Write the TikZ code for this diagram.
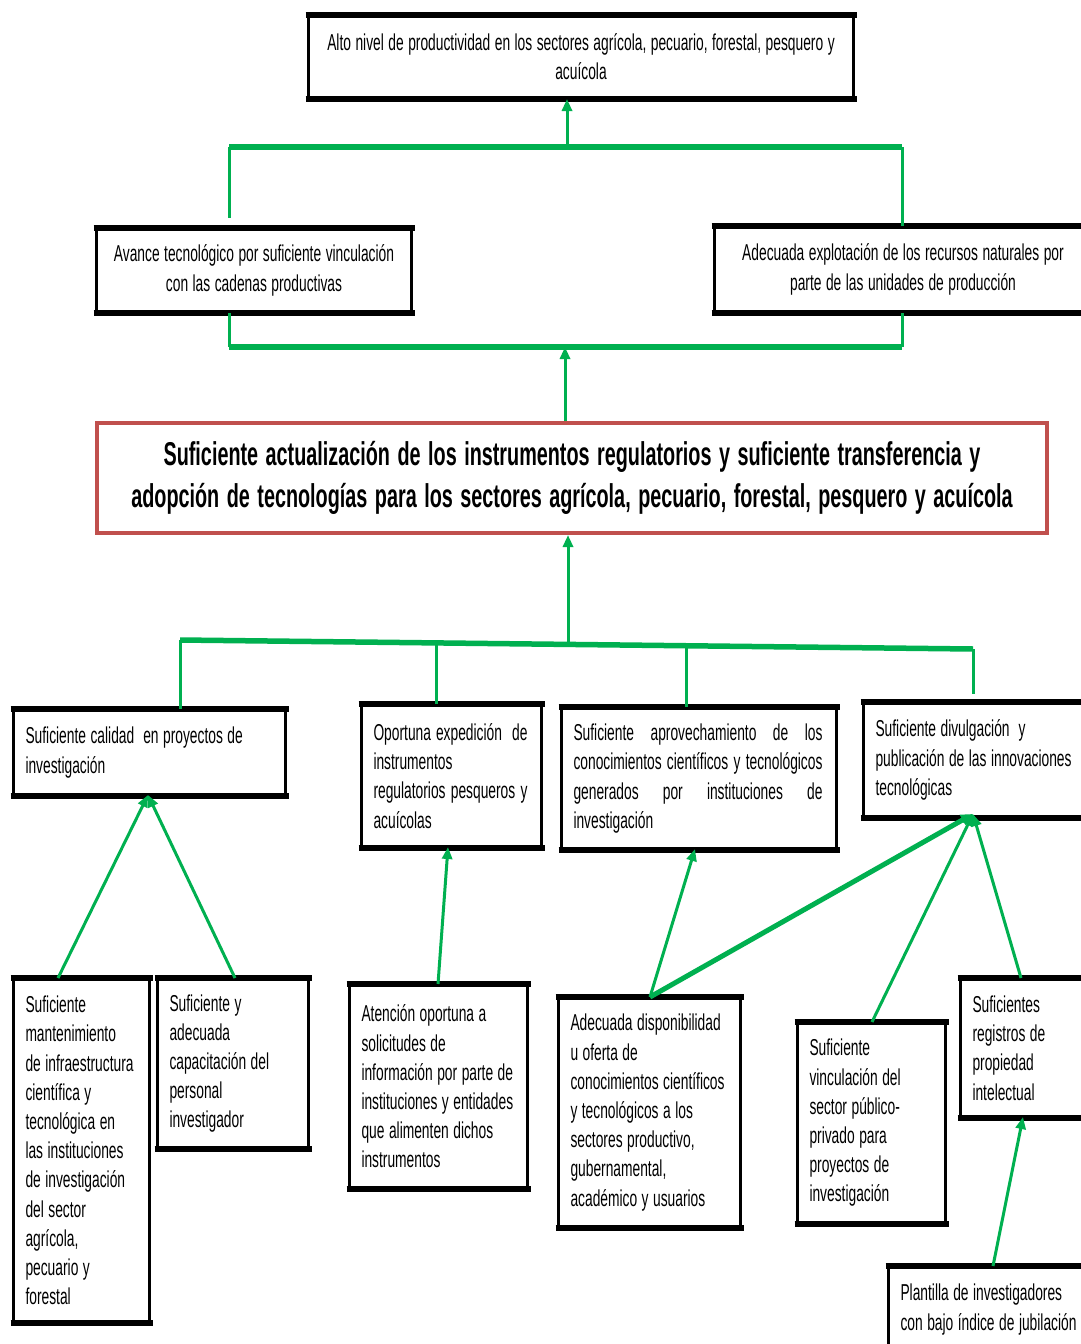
\documentclass[tikz,border=0pt]{standalone}
\usepackage{fontspec}
\setmainfont{Liberation Sans}[FakeStretch=0.6]
\usetikzlibrary{arrows.meta}
\definecolor{gr}{HTML}{00B050}
\definecolor{rd}{HTML}{C0504D}
\newcommand{\boxfont}{\fontsize{23}{29.2}\selectfont}
\newcommand{\bigfont}{\fontsize{33}{42}\selectfont\bfseries}
\newcommand{\tsp}{\spaceskip=4.5pt plus 3pt minus 1pt\xspaceskip=4.5pt plus 3pt\hyphenpenalty=10000\relax}
\newcommand{\csp}{\spaceskip=4.5pt\xspaceskip=4.5pt\hyphenpenalty=10000\relax}
\newcommand{\lsp}{\tsp\leftskip=10pt\relax}
\newcommand{\bsp}{\spaceskip=7.5pt\xspaceskip=7.5pt\hyphenpenalty=10000\relax}
\newcommand{\jline}[1]{\makebox[\dimexpr\linewidth-22pt\relax][s]{#1}}
\begin{document}
\begin{tikzpicture}[x=1pt,y=-1pt,
  box/.style={draw=black, line width=3pt, anchor=north west, inner xsep=2pt, inner ysep=2pt,
     font=\boxfont, align=left},
  cbox/.style={box, inner xsep=12pt, align=center},
  gline/.style={draw=gr, line width=3pt},
  gbar/.style={draw=gr, line width=5.5pt},
  garr/.style={draw=gr, line width=3pt, -{Triangle[length=12pt,width=10pt]}},
  garrb/.style={draw=gr, line width=5pt, -{Triangle[length=12pt,width=11pt]}},
  thk/.style={draw=black, line width=6pt}]
\clip (0,0) rectangle (1081,1344);
\fill[white] (0,0) rectangle (1081,1344);
% level 1
\node[cbox, minimum width=545pt, minimum height=81pt, text width=521pt] (top) at (307,15)
 {\csp Alto nivel de productividad en los sectores agrícola, pecuario, forestal, pesquero y\\ \csp acuícola};
% level 2
\node[cbox, minimum width=315pt, minimum height=82pt, text width=291pt] (avance) at (95,228)
 {\csp Avance tecnológico por suficiente vinculación\\ \csp con las cadenas productivas};
\node[cbox, minimum width=377pt, minimum height=84pt, text width=353pt] (adec) at (713,226)
 {\csp Adecuada explotación de los recursos naturales por\\ \csp parte de las unidades de producción};
% central
\node[draw=rd, line width=4pt, anchor=north west, minimum width=950pt, minimum height=110pt,
  text width=926pt, inner xsep=12pt, align=center, font=\bigfont] (central) at (95,421)
 {\bsp Suficiente actualización de los instrumentos regulatorios y suficiente transferencia y\\ \bsp adopción de tecnologías para los sectores agrícola, pecuario, forestal, pesquero y acuícola};
% level 3
\node[box, minimum width=272pt, minimum height=84pt, text width=268pt] (b1) at (12,709)
 {\lsp Suficiente calidad \ en proyectos de\\ investigación\par};
\node[box, minimum width=180pt, minimum height=141pt, text width=176pt] (b2) at (360,704)
 {\lsp\jline{Oportuna expedición \ de}\\ instrumentos\\ \jline{regulatorios pesqueros y}\\ acuícolas\par};
\node[box, minimum width=275pt, minimum height=140pt, text width=271pt] (b3) at (560,707)
 {\lsp\jline{Suficiente aprovechamiento de los}\\ \jline{conocimientos científicos y tecnológicos}\\ \jline{generados por instituciones de}\\ investigación\par};
\node[box, minimum width=228pt, minimum height=113pt, text width=224pt] (b4) at (862,702)
 {\lsp Suficiente divulgación \ y\\ publicación de las innovaciones\\ tecnológicas\par};
% level 4
\node[box, minimum width=136pt, minimum height=342pt, text width=132pt] (c1) at (12,978)
 {\lsp Suficiente\\ mantenimiento\\ de infraestructura\\ científica y\\ tecnológica en\\ las instituciones\\ de investigación\\ del sector\\ agrícola,\\ pecuario y\\ forestal\par};
\node[box, minimum width=151pt, minimum height=168pt, text width=147pt] (c2) at (156,978)
 {\lsp Suficiente y\\ adecuada\\ capacitación del\\ personal\\ investigador\par};
\node[box, minimum width=178pt, minimum height=202pt, text width=174pt] (c3) at (348,984)
 {\lsp Atención oportuna a\\ solicitudes de\\ información por parte de\\ instituciones y entidades\\ que alimenten dichos\\ instrumentos\par};
\node[box, minimum width=182pt, minimum height=228pt, text width=178pt] (c4) at (557,997)
 {\lsp Adecuada disponibilidad\\ u oferta de\\ conocimientos científicos\\ y tecnológicos a los\\ sectores productivo,\\ gubernamental,\\ académico y usuarios\par};
\node[box, minimum width=148pt, minimum height=199pt, text width=144pt] (c5) at (796,1022)
 {\lsp Suficiente\\ vinculación del\\ sector público-\\ privado para\\ proyectos de\\ investigación\par};
\node[box, minimum width=131pt, minimum height=137pt, text width=127pt] (c6) at (959,978)
 {\lsp Suficientes\\ registros de\\ propiedad\\ intelectual\par};
\node[box, minimum width=203pt, minimum height=84pt, text width=199pt] (c7) at (887,1266)
 {\lsp Plantilla de investigadores\\ con bajo índice de jubilación\par};
% thick top/bottom borders
\foreach \n in {top,avance,adec,b1,b2,b3,b4,c1,c2,c3,c4,c5,c6,c7}{
  \draw[thk] ([xshift=-1.5pt]\n.north west) -- ([xshift=1.5pt]\n.north east);
  \draw[thk] ([xshift=-1.5pt]\n.south west) -- ([xshift=1.5pt]\n.south east);
}
% upper connectors
\coordinate (t1) at (229,147);
\coordinate (t2) at (902,147);
\coordinate (tm) at (567,147);
\draw[gbar] (t1) -- (t2);
\draw[garr] (tm) -- (tm |- top.south);
\draw[gline] (t1) -- ([yshift=10pt]t1 |- avance.north);
\draw[gline] (t2) -- (t2 |- adec.north);
\coordinate (l1) at (229,347);
\coordinate (l2) at (902,347);
\coordinate (lm) at (565,347);
\draw[gbar] (l1) -- (l2);
\draw[gline] (l1 |- avance.south) -- (l1);
\draw[gline] (l2 |- adec.south) -- (l2);
\draw[garr] (lm |- central.north) -- (lm);
% central to level 3
\coordinate (m1) at (180,640);
\coordinate (m2) at (973,649);
\coordinate (mm) at (568,644);
\coordinate (v2) at (436,643);
\coordinate (v3) at (686,646);
\draw[gbar] (m1) -- (m2);
\draw[garr] (mm) -- (mm |- central.south);
\draw[gline] (m1) -- (m1 |- b1.north);
\draw[gline] (v2) -- (v2 |- b2.north);
\draw[gline] (v3) -- (v3 |- b3.north);
\draw[gline] (m2) -- ([yshift=8pt]m2 |- b4.north);
% level 4 to level 3
\coordinate (a1) at (148,795);
\draw[garr] ([xshift=46pt]c1.north west) -- (a1);
\draw[garr] ([xshift=-75pt]c2.north east) -- (a1);
\coordinate (a2) at (448,847);
\draw[garr] ([xshift=90pt]c3.north west) -- (a2);
\coordinate (a3) at (695,849);
\coordinate (s4) at (650,997);
\draw[garr] (s4) -- (a3);
\coordinate (a4) at (973,814);
\draw[garrb] (s4) -- (a4);
\draw[garr] ([xshift=76pt]c5.north west) -- (a4);
\draw[garr] ([xshift=62pt]c6.north west) -- (a4);
\coordinate (a5) at (1023,1117);
\draw[garr] ([xshift=106pt]c7.north west) -- (a5);
\end{tikzpicture}
\end{document}
